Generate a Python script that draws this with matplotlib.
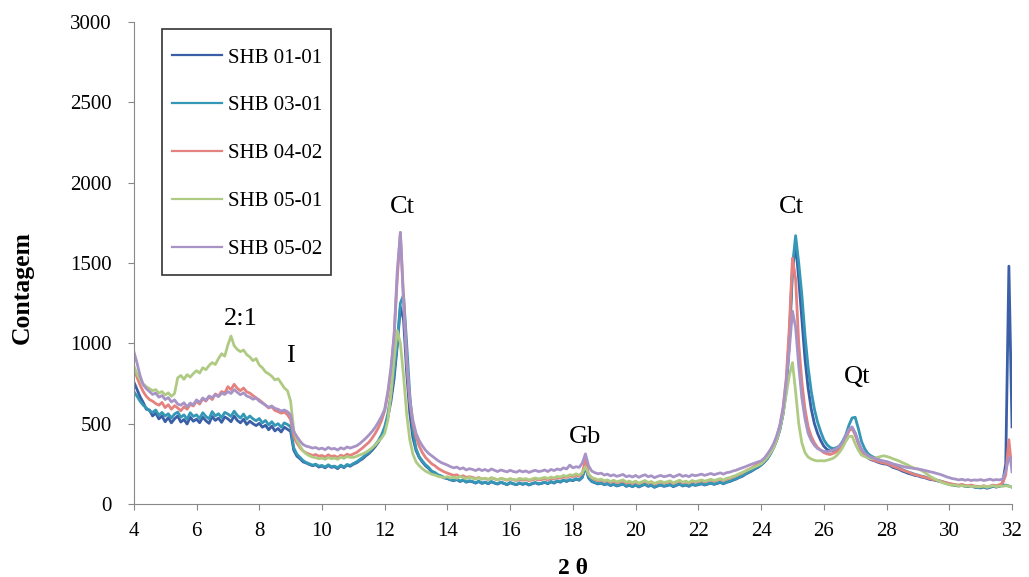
import matplotlib
matplotlib.use("Agg")
import matplotlib.pyplot as plt
from matplotlib.patches import Rectangle
import numpy as np

# 2-theta grid: 0.1 deg steps from 4.0 to 31.9, plus two points at the very end
two_theta = np.concatenate([np.round(np.arange(4.0, 31.91, 0.1), 2), [31.95, 32.0]])

shb_01_01 = [
    760, 715, 668, 632, 590, 585, 548, 566, 530, 548,
    512, 538, 505, 530, 548, 510, 526, 498, 540, 515,
    528, 506, 540, 518, 502, 545, 520, 535, 508, 542,
    530, 512, 548, 520, 505, 528, 495, 515, 500, 488,
    502, 478, 490, 462, 485, 455, 470, 448, 478, 465,
    452, 335, 298, 282, 262, 255, 246, 238, 244, 230,
    236, 225, 240, 228, 232, 220, 238, 226, 242, 235,
    248, 256, 270, 282, 300, 315, 335, 358, 385, 420,
    470, 540, 640, 780, 985, 1225, 1150, 820, 565, 412,
    332, 290, 262, 238, 222, 200, 192, 178, 172, 162,
    158, 150, 145, 152, 140, 148, 136, 142, 138, 130,
    140, 128, 135, 126, 138, 130, 124, 134, 128, 120,
    132, 125, 120, 130, 122, 128, 118, 126, 132, 124,
    128, 135, 126, 138, 130, 142, 136, 148, 140, 150,
    145, 155, 148, 165, 232, 162, 140, 132, 125, 130,
    120, 126, 115, 122, 112, 118, 124, 110, 116, 108,
    118, 106, 115, 122, 110, 116, 104, 112, 118, 110,
    114, 120, 108, 116, 124, 112, 118, 110, 122, 116,
    120, 126, 118, 124, 130, 122, 128, 134, 126, 135,
    140, 148, 155, 165, 172, 185, 195, 205, 218, 228,
    242, 260, 282, 312, 350, 398, 462, 560, 700, 1000,
    1450, 1620, 1400, 1150, 900, 720, 590, 500, 440, 395,
    360, 340, 330, 332, 338, 350, 375, 415, 460, 475,
    440, 382, 332, 305, 288, 276, 270, 262, 255, 250,
    248, 240, 228, 222, 215, 205, 198, 190, 185, 178,
    175, 168, 165, 158, 152, 150, 145, 140, 135, 128,
    122, 118, 115, 112, 116, 110, 108, 112, 105, 102,
    100, 106, 98, 104, 110, 105, 112, 130, 250, 1480,
    990, 480,
]

shb_03_01 = [
    700, 672, 640, 615, 598, 580, 570, 585, 552, 570,
    548, 562, 535, 560, 572, 540, 555, 528, 568, 545,
    555, 532, 568, 545, 530, 575, 548, 562, 538, 570,
    560, 545, 578, 552, 535, 560, 528, 548, 530, 518,
    532, 505, 520, 492, 512, 488, 500, 478, 505, 495,
    480, 350, 310, 290, 270, 258, 250, 242, 248, 236,
    240, 230, 244, 232, 236, 226, 242, 230, 246, 240,
    252, 262, 276, 290, 308, 322, 345, 368, 395, 430,
    480, 560, 680, 820, 1000, 1250, 1300, 1000, 680, 460,
    345, 295, 268, 245, 228, 205, 196, 182, 175, 166,
    160, 152, 148, 155, 142, 150, 138, 145, 140, 132,
    142, 130, 137, 128, 140, 132, 126, 136, 130, 122,
    134, 127, 122, 132, 124, 130, 120, 128, 134, 126,
    130, 137, 128, 140, 132, 145, 138, 150, 143, 152,
    148, 158, 150, 168, 245, 165, 142, 134, 128, 132,
    122, 128, 117, 124, 114, 120, 126, 112, 118, 110,
    120, 108, 117, 124, 112, 118, 106, 114, 120, 112,
    116, 122, 110, 118, 126, 114, 120, 112, 124, 118,
    122, 128, 120, 126, 132, 124, 130, 136, 128, 137,
    142, 150, 158, 168, 175, 188, 198, 208, 222, 232,
    245, 262, 285, 315, 355, 402, 468, 565, 720, 1050,
    1480, 1670, 1500, 1300, 1050, 850, 700, 590, 510, 450,
    400, 370, 352, 345, 350, 362, 390, 430, 490, 535,
    540, 470, 390, 345, 315, 300, 290, 280, 272, 265,
    260, 252, 240, 232, 225, 215, 206, 198, 192, 185,
    180, 174, 170, 163, 157, 154, 149, 144, 138, 132,
    126, 121, 118, 115, 119, 113, 110, 114, 107, 104,
    102, 108, 100, 106, 112, 107, 110, 115, 118, 112,
    108, 104,
]

shb_04_02 = [
    850, 790, 740, 700, 670, 650, 640, 625, 615, 632,
    600, 618, 590, 612, 598, 580, 605, 590, 620, 610,
    640, 622, 655, 640, 668, 650, 685, 672, 700, 690,
    730, 712, 745, 720, 705, 722, 698, 690, 675, 660,
    648, 632, 615, 598, 605, 582, 575, 565, 572, 556,
    525, 420, 380, 350, 330, 318, 310, 302, 308, 298,
    302, 292, 306, 296, 300, 290, 304, 296, 310, 302,
    312, 320, 335, 350, 368, 385, 410, 440, 475, 520,
    580, 680, 820, 1050, 1400, 1690, 1300, 900, 640, 500,
    420, 360, 320, 290, 270, 250, 238, 222, 210, 200,
    192, 185, 178, 182, 170, 176, 165, 170, 166, 158,
    165, 155, 160, 152, 162, 156, 150, 158, 154, 148,
    156, 150, 146, 154, 148, 152, 145, 150, 156, 150,
    152, 158, 150, 160, 155, 165, 160, 170, 165, 175,
    170, 180, 172, 190, 280, 185, 162, 152, 145, 150,
    140, 146, 135, 142, 132, 138, 144, 130, 136, 128,
    138, 126, 135, 142, 130, 136, 124, 132, 138, 130,
    134, 140, 128, 136, 144, 132, 138, 130, 142, 136,
    140, 146, 138, 144, 150, 142, 148, 154, 146, 155,
    160, 168, 175, 185, 192, 205, 215, 225, 238, 248,
    262, 280, 305, 335, 372, 420, 490, 600, 780, 1100,
    1530, 1400, 1000, 760, 590, 480, 420, 380, 352, 335,
    320, 312, 308, 315, 325, 340, 365, 410, 455, 470,
    430, 375, 330, 305, 290, 280, 272, 266, 260, 255,
    252, 245, 235, 228, 220, 212, 205, 198, 190, 182,
    178, 172, 168, 162, 156, 152, 148, 143, 138, 132,
    128, 124, 120, 118, 122, 116, 114, 118, 112, 110,
    108, 114, 106, 112, 118, 114, 120, 130, 180, 400,
    300, 240,
]

shb_05_01 = [
    860, 810, 775, 748, 730, 718, 705, 712, 690, 700,
    678, 692, 670, 688, 785, 800, 776, 805, 790, 812,
    830, 815, 848, 836, 862, 880, 868, 905, 935, 920,
    990, 1045, 985, 962, 948, 958, 930, 915, 892, 905,
    865, 848, 822, 810, 795, 772, 780, 752, 722, 705,
    640, 460, 400, 360, 330, 312, 300, 292, 288, 282,
    286, 278, 290, 282, 286, 278, 292, 284, 296, 290,
    290, 296, 305, 312, 322, 335, 350, 368, 390, 410,
    440, 520, 680, 900, 1080, 1000, 800, 560, 400, 310,
    262, 238, 220, 205, 195, 185, 180, 172, 168, 165,
    170, 162, 168, 160, 172, 164, 158, 166, 160, 155,
    162, 156, 160, 152, 164, 158, 150, 160, 156, 150,
    158, 152, 150, 160, 154, 158, 150, 156, 162, 156,
    160, 166, 158, 168, 162, 172, 168, 178, 172, 182,
    178, 188, 180, 195, 232, 185, 165, 158, 150, 155,
    145, 150, 140, 148, 138, 144, 150, 136, 142, 134,
    142, 130, 138, 146, 134, 140, 128, 136, 142, 134,
    138, 144, 132, 140, 148, 136, 142, 134, 146, 140,
    144, 150, 142, 148, 154, 146, 152, 158, 150, 160,
    164, 172, 178, 188, 196, 205, 215, 222, 232, 240,
    250, 268, 290, 318, 350, 400, 470, 560, 680, 800,
    880, 700, 500, 380, 320, 292, 280, 272, 268, 270,
    268, 272, 278, 285, 300, 322, 352, 390, 420, 422,
    375, 335, 305, 295, 288, 282, 285, 290, 295, 300,
    296, 290, 282, 275, 268, 258, 250, 240, 230, 222,
    218, 210, 198, 185, 170, 160, 150, 140, 132, 125,
    120, 116, 118, 112, 115, 110, 112, 108, 110, 106,
    108, 112, 104, 110, 114, 108, 112, 110, 114, 110,
    108, 110,
]

shb_05_02 = [
    950, 880, 800, 742, 718, 700, 682, 690, 665, 675,
    650, 662, 635, 648, 622, 615, 630, 605, 628, 618,
    648, 632, 660, 645, 672, 662, 680, 668, 690, 682,
    700, 688, 712, 695, 680, 692, 672, 665, 652, 660,
    640, 628, 615, 602, 610, 595, 590, 578, 585, 575,
    555, 450, 420, 392, 370, 360, 355, 348, 352, 342,
    348, 338, 352, 342, 346, 336, 350, 342, 355, 348,
    355, 362, 375, 392, 410, 430, 452, 478, 510, 545,
    590, 700, 850, 1050, 1450, 1690, 1250, 900, 650, 520,
    440, 395, 362, 335, 315, 300, 285, 270, 258, 250,
    242, 232, 225, 230, 218, 225, 212, 220, 215, 208,
    218, 208, 215, 205, 218, 210, 202, 212, 206, 200,
    210, 202, 198, 208, 200, 206, 196, 204, 210, 202,
    205, 212, 202, 215, 208, 218, 212, 225, 218, 242,
    225, 232, 228, 255, 312, 238, 205, 195, 188, 192,
    180, 186, 175, 182, 172, 178, 184, 170, 176, 168,
    178, 166, 175, 182, 170, 176, 164, 172, 178, 170,
    174, 180, 168, 176, 184, 172, 178, 170, 182, 176,
    180, 186, 178, 184, 190, 182, 188, 194, 186, 195,
    198, 205, 210, 218, 225, 232, 240, 248, 255, 262,
    268, 285, 310, 340, 375, 425, 490, 590, 760, 960,
    1200, 1100, 860, 660, 530, 440, 395, 365, 345, 335,
    328, 325, 330, 335, 345, 360, 385, 425, 465, 480,
    440, 385, 342, 318, 302, 292, 285, 278, 272, 268,
    265, 258, 250, 245, 240, 235, 230, 226, 224, 220,
    218, 214, 210, 205, 200, 196, 190, 185, 178, 170,
    164, 158, 155, 150, 154, 148, 152, 146, 150, 148,
    152, 146, 150, 155, 148, 152, 150, 155, 205, 290,
    285, 200,
]

series_labels = ["SHB 01-01", "SHB 03-01", "SHB 04-02", "SHB 05-01", "SHB 05-02"]
series_colors = ["#3B5FA6", "#3497B6", "#E3827F", "#AFCB83", "#A793C6"]

# phase labels: text, 2theta, count
peak_labels = ["2:1", "I", "Ct", "Gb", "Ct", "Qt"]
peak_x = [7.4, 9.0, 12.55, 18.4, 24.95, 27.05]
peak_y = [1150, 920, 1850, 420, 1850, 790]

plt.rcParams['font.family'] = ['Liberation Serif', 'DejaVu Serif']

fig = plt.figure(figsize=(10.29, 5.77), dpi=100)
ax = fig.add_axes([0.130, 0.1265, 0.8535, 0.8355])

all_series = [shb_01_01, shb_03_01, shb_04_02, shb_05_01, shb_05_02]
for values, label, color in zip(all_series, series_labels, series_colors):
    ax.plot(two_theta, values, color=color, lw=2.0, label=label)

for txt, px, py in zip(peak_labels, peak_x, peak_y):
    ax.text(px, py, txt, fontsize=19, ha='center', va='center')

ax.set_xlim(4, 32)
ax.set_ylim(0, 3000)
ax.set_xticks(np.arange(4, 33, 2))
ax.set_yticks(np.arange(0, 3001, 500))
ax.tick_params(labelsize=15, direction='out', length=4, color='#888888')
ax.tick_params(axis='x', pad=9)
ax.tick_params(axis='y', pad=12)

for side in ['top', 'right']:
    ax.spines[side].set_visible(False)
for side in ['left', 'bottom']:
    ax.spines[side].set_color('#888888')

ax.set_xlabel('2 θ', fontsize=17, fontweight='bold')
ax.set_ylabel('Contagem', fontsize=18.5, fontweight='bold')
ax.xaxis.set_label_coords(0.5, -0.112)
ax.yaxis.set_label_coords(-0.114, 0.448)

# legend box drawn separately so its padding can match the original
ax.add_patch(Rectangle((0.0319, 0.475), 0.1925, 0.510, transform=ax.transAxes,
                       facecolor='white', edgecolor='#333333', lw=1.2, zorder=4))
leg = ax.legend(loc='upper left', bbox_to_anchor=(0.0433, 0.946), borderaxespad=0,
                fontsize=15, labelspacing=1.36, handlelength=2.4, handletextpad=0.3,
                borderpad=0, frameon=False)
leg.set_zorder(5)
for line in leg.get_lines():
    line.set_linewidth(1.6)

fig.savefig('out.png', dpi=100)
